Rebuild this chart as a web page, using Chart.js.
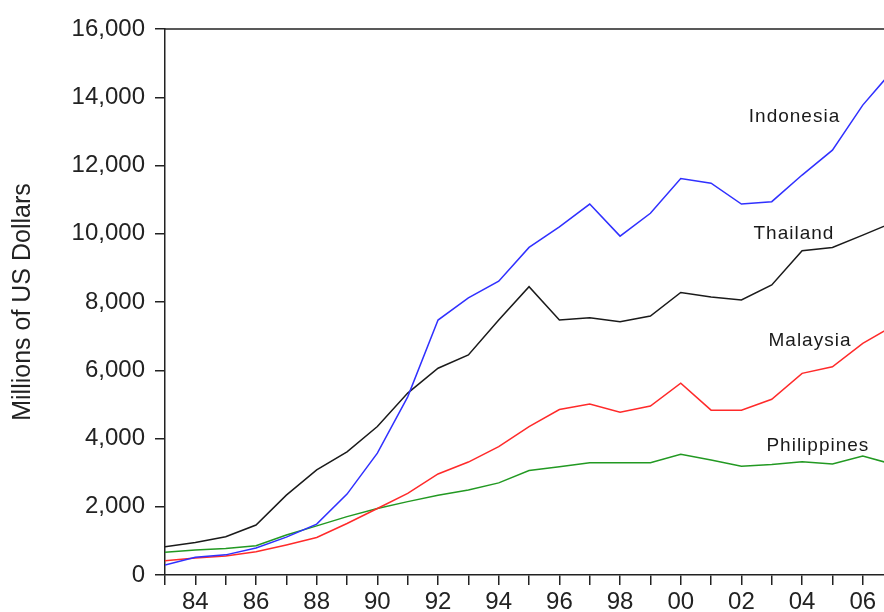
<!DOCTYPE html>
<html>
<head>
<meta charset="utf-8">
<script src="https://cdn.jsdelivr.net/npm/chart.js@4.4.1/dist/chart.umd.min.js"></script>
<style>
  html, body { margin: 0; padding: 0; background: #fff; }
  #wrap { width: 884px; height: 612px; position: relative; }
</style>
</head>
<body>
<div id="wrap"><canvas id="c"></canvas></div>
<script>
const years = [1983,1984,1985,1986,1987,1988,1989,1990,1991,1992,1993,1994,1995,1996,1997,1998,1999,2000,2001,2002,2003,2004,2005,2006,2007];
const indonesia = [290,520,590,790,1110,1490,2370,3570,5220,7470,8120,8610,9600,10200,10870,9930,10600,11620,11480,10870,10940,11720,12450,13770,14800];
const thailand = [830,950,1120,1465,2340,3080,3610,4350,5330,6060,6450,7470,8450,7470,7540,7420,7590,8280,8150,8060,8500,9500,9600,9960,10330];
const malaysia = [420,500,560,680,880,1100,1510,1950,2390,2960,3310,3760,4350,4850,5010,4770,4950,5620,4830,4830,5150,5910,6100,6790,7300];
const philippines = [670,730,780,860,1170,1440,1710,1950,2150,2340,2490,2700,3060,3170,3290,3290,3290,3540,3370,3190,3240,3320,3250,3490,3240];
const seriesNames = ['Indonesia','Thailand','Malaysia','Philippines'];
const yTicks = [0,2000,4000,6000,8000,10000,12000,14000,16000];
const yTitle = 'Millions of US Dollars';

function pts(vals){ return years.map((y,i)=>({x:y, y:vals[i]})); }

const labelAnchors = {
  Indonesia: [2003.75, 13420],
  Thailand: [2003.73, 9990],
  Malaysia: [2004.26, 6860],
  Philippines: [2004.52, 3780]
};

const labelPlugin = {
  id: 'seriesLabels',
  afterDatasetsDraw(chart){
    const ctx = chart.ctx;
    const xs = chart.scales.x, ys = chart.scales.y;
    ctx.save();
    ctx.font = '19px "Liberation Sans", Arial, sans-serif';
    try { ctx.letterSpacing = '1px'; } catch(e){}
    ctx.fillStyle = '#1a1a1a';
    ctx.textAlign = 'center';
    ctx.textBaseline = 'middle';
    seriesNames.forEach(n=>{
      const a = labelAnchors[n];
      ctx.fillText(n, xs.getPixelForValue(a[0]), ys.getPixelForValue(a[1]));
    });
    ctx.restore();
  },
  beforeDatasetsDraw(chart){
    const ctx = chart.ctx, ca = chart.chartArea;
    ctx.save();
    ctx.strokeStyle = '#222';
    ctx.lineWidth = 1.5;
    ctx.beginPath();
    ctx.moveTo(ca.left, ca.top);
    ctx.lineTo(ca.right, ca.top);
    ctx.stroke();
    ctx.restore();
  }
};

const tickFont = { family: '"Liberation Sans", Arial, sans-serif', size: 24 };

new Chart(document.getElementById('c'), {
  type: 'line',
  data: {
    datasets: [
      { label: 'Indonesia', data: pts(indonesia), borderColor: '#3030ff', borderWidth: 1.5 },
      { label: 'Thailand', data: pts(thailand), borderColor: '#1a1a1a', borderWidth: 1.5 },
      { label: 'Malaysia', data: pts(malaysia), borderColor: '#ff2a2a', borderWidth: 1.5 },
      { label: 'Philippines', data: pts(philippines), borderColor: '#229922', borderWidth: 1.5 }
    ]
  },
  options: {
    responsive: true,
    maintainAspectRatio: false,
    animation: false,
    elements: { point: { radius: 0 }, line: { tension: 0 } },
    layout: { padding: { top: 29, right: 0, left: 0, bottom: 0 } },
    plugins: { legend: { display: false }, tooltip: { enabled: false } },
    scales: {
      x: {
        type: 'linear',
        min: 1983,
        max: 2006.7,
        afterBuildTicks(scale){ scale.ticks = years.filter(y=>y<=2006).map(v=>({value:v})); },
        afterFit(scale){ scale.height = 37; },
        ticks: {
          autoSkip: false, maxRotation: 0, minRotation: 0,
          color: '#222', font: tickFont, padding: 3,
          callback(v){ return (v % 2 === 0) ? String(v).slice(2) : ''; }
        },
        grid: { drawOnChartArea: false, drawTicks: true, tickLength: 10, color: '#222', lineWidth: 1.5 },
        border: { display: true, color: '#222', width: 1.5 }
      },
      y: {
        min: 0, max: 16000,
        afterBuildTicks(scale){ scale.ticks = yTicks.map(v=>({value:v})); },
        afterFit(scale){ scale.width = 165; },
        ticks: {
          color: '#222', font: tickFont, padding: 10,
          callback(v){ return v.toLocaleString('en-US'); }
        },
        grid: { drawOnChartArea: false, drawTicks: true, tickLength: 10, color: '#222', lineWidth: 1.5 },
        border: { display: true, color: '#222', width: 1.5 },
        title: {
          display: true, text: yTitle, color: '#222',
          font: { family: '"Liberation Sans", Arial, sans-serif', size: 25, lineHeight: 1.2 },
          padding: { top: 8, bottom: 0 }
        }
      }
    }
  },
  plugins: [labelPlugin]
});
</script>
</body>
</html>
